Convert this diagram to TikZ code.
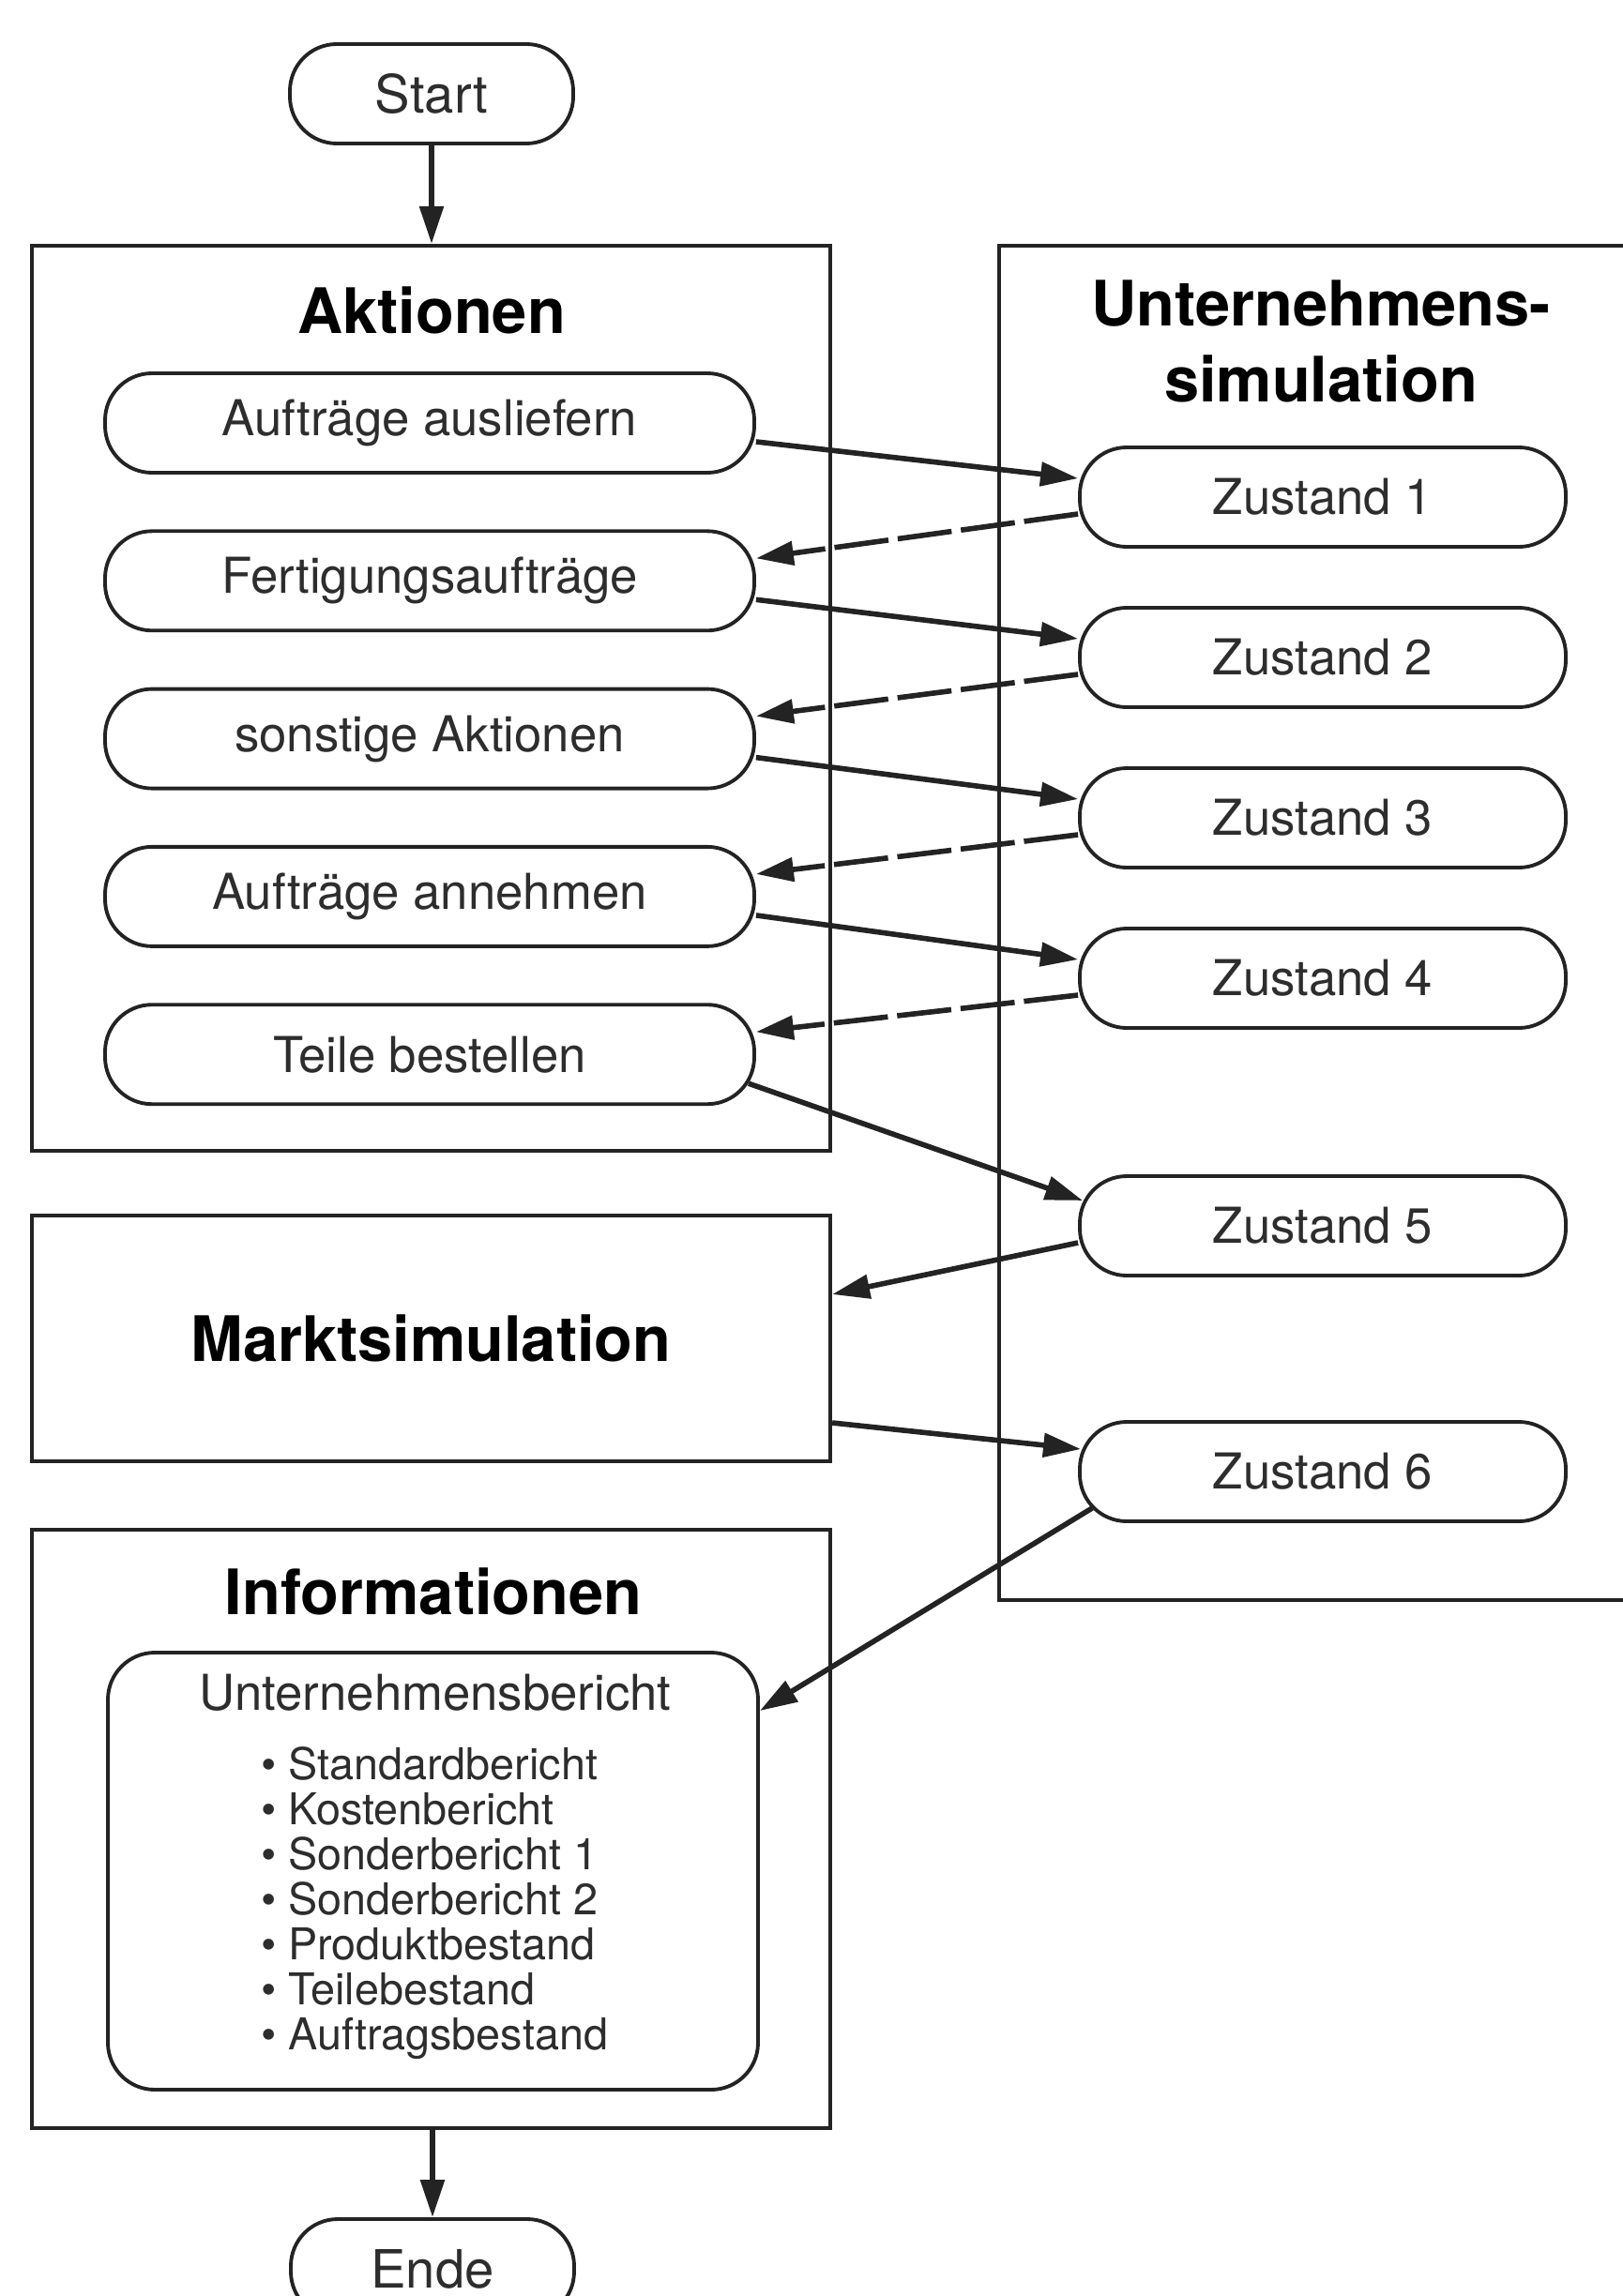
\documentclass[tikz,border=0pt]{standalone}
\usepackage{fontspec}
\setmainfont{TeX Gyre Heros}
\usetikzlibrary{arrows.meta}

\begin{document}
\begin{tikzpicture}[
    proc/.style={draw=linegray, line width=1.1pt, rounded corners=0.5cm,
        minimum height=1.06cm, inner sep=0pt, text=textgray,
        font=\fontsize{15}{18}\selectfont},
    frame/.style={draw=linegray, line width=1.2pt, inner sep=0pt},
    titel/.style={font=\fontsize{19}{22.8}\selectfont\bfseries},
    flow/.style={draw=linegray, line width=1.6pt,
        -{Triangle[length=0.4cm,width=0.25cm]}},
    back/.style={flow, dash pattern=on 0.58cm off 0.1cm}
]
    % Define colors
    \definecolor{linegray}{RGB}{35,35,35}
    \definecolor{textgray}{RGB}{45,45,45}

    % Page size, the right box runs off the page
    \useasboundingbox (0,0) rectangle (17.30,-24.48);
    \clip (0,0) rectangle (17.30,-24.48);

    % Start
    \node[proc, minimum width=3.02cm, font=\fontsize{16}{19}\selectfont] (start) at (4.60,-1.00) {Start};

    % Aktionen block
    \node[frame, minimum width=8.51cm, minimum height=9.65cm] (aktionen) at (4.595,-7.445) {};
    \node[titel] (aktionentitel) at (4.60,-3.31) {Aktionen};
    \foreach \name [count=\i] in {Aufträge ausliefern, Fertigungsaufträge, sonstige Aktionen, Aufträge annehmen, Teile bestellen} {
        \pgfmathsetmacro{\y}{-4.51-1.683*(\i-1)}
        \node[proc, minimum width=6.92cm] (a\i) at (4.58,\y) {\name};
    }

    % Unternehmenssimulation block
    \node[frame, minimum width=6.80cm, minimum height=14.44cm] (usim) at (14.05,-9.84) {};
    \node[titel, align=center] (usimtitel) at (14.08,-3.64) {Unternehmens-\\simulation};
    \foreach \y [count=\i] in {5.30,7.01,8.72,10.43,13.07,15.69} {
        \node[proc, minimum width=5.18cm] (z\i) at (14.10,-\y) {Zustand \i};
    }

    % Marktsimulation
    \node[frame, titel, minimum width=8.51cm, minimum height=2.62cm] (markt) at (4.595,-14.27) {Marktsimulation};

    % Informationen block
    \node[frame, minimum width=8.51cm, minimum height=6.38cm] (info) at (4.595,-19.50) {};
    \node[titel] (infotitel) at (4.62,-16.97) {Informationen};
    \node[proc, minimum width=6.93cm, minimum height=4.66cm] (bericht) at (4.615,-19.95) {};
    \node[text=textgray, font=\fontsize{15}{18}\selectfont] (berichttitel) at (4.64,-18.05) {Unternehmensbericht};
    \node[text=textgray, align=left, font=\fontsize{13.3}{13.66}\selectfont] (berichtliste) at (4.63,-20.29) {%
        \textbullet\ Standardbericht\\
        \textbullet\ Kostenbericht\\
        \textbullet\ Sonderbericht 1\\
        \textbullet\ Sonderbericht 2\\
        \textbullet\ Produktbestand\\
        \textbullet\ Teilebestand\\
        \textbullet\ Auftragsbestand};

    % Ende
    \node[proc, minimum width=3.02cm, font=\fontsize{16}{19}\selectfont] (ende) at (4.61,-24.19) {Ende};

    % Connections
    \draw[flow] (start.south) -- (start.south |- aktionen.north);
    \foreach \i in {1,...,4} {
        \draw[flow] ([yshift=-0.2cm]a\i.east) -- ([yshift=0.2cm]z\i.west);
    }
    \foreach \i/\j in {1/2,2/3,3/4,4/5} {
        \draw[back] ([yshift=-0.18cm]z\i.west) -- ([yshift=0.24cm]a\j.east);
    }
    \draw[flow] ([xshift=-0.08cm,yshift=-0.31cm]a5.east) -- ([xshift=0.05cm,yshift=0.27cm]z5.west);
    \draw[flow] ([yshift=-0.18cm]z5.west) -- ([yshift=0.47cm]markt.east);
    \draw[flow] ([yshift=-0.90cm]markt.east) -- ([xshift=0.03cm,yshift=0.24cm]z6.west);
    \draw[flow] ([xshift=0.15cm,yshift=-0.39cm]z6.west) -- ([yshift=1.71cm]bericht.east);
    \draw[flow] (ende.north |- info.south) -- (ende.north);
\end{tikzpicture}
\end{document}
